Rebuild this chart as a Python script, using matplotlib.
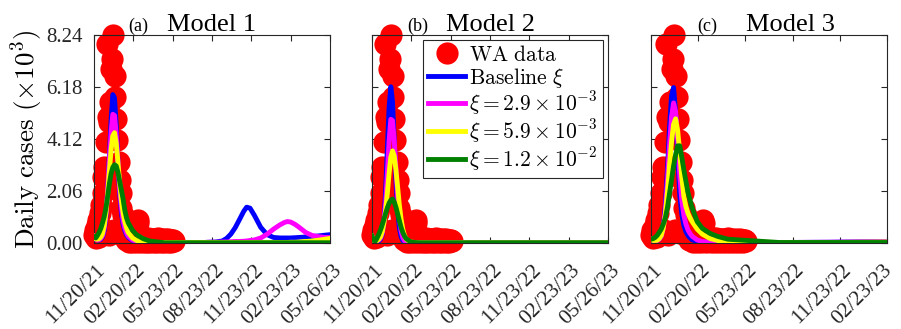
import numpy as np
import pandas as pd
import matplotlib
matplotlib.use('Agg')
import matplotlib.pyplot as plt
from matplotlib.transforms import ScaledTranslation

plt.rcParams['mathtext.fontset'] = 'cm'
plt.rcParams['font.family'] = ['Liberation Serif', 'DejaVu Serif']

# dates
start_date = '11/20/21'
ticks_ab = ['11/20/21', '02/20/22', '05/23/22', '08/23/22', '11/23/22', '02/23/23', '05/26/23']
ticks_c = ['11/20/21', '02/20/22', '05/23/22', '08/23/22', '11/23/22', '02/23/23']

# WA daily cases (x1000), every 2 days from 11/20/21
data_days = np.arange(0, 187, 2)
data_cases = [0.3, 0.5, 0.2, 0.45, 0.7, 0.9, 0.25, 1.2, 1.5, 0.4,
              2.0, 2.6, 3.0, 0.5, 4.0, 7.9, 5.0, 0.3, 4.8, 5.6,
              6.9, 7.3, 8.24, 0.5, 6.6, 5.8, 4.9, 4.1, 0.4, 3.2,
              2.5, 2.0, 1.4, 0.3, 1.1, 0.8, 0.7, 0.1, 0.5, 0.45,
              0.4, 0.05, 0.35, 0.3, 0.3, 0.05, 0.3, 0.25, 0.2, 0.05,
              0.6, 0.9, 0.8, 0.3, 0.05, 0.25, 0.2, 0.2, 0.02, 0.2,
              0.18, 0.15, 0.02, 0.2, 0.15, 0.15, 0.02, 0.17, 0.15, 0.13,
              0.02, 0.15, 0.14, 0.12, 0.02, 0.18, 0.14, 0.12, 0.02, 0.15,
              0.13, 0.1, 0.02, 0.14, 0.12, 0.1, 0.02, 0.14, 0.12, 0.1,
              0.02, 0.12, 0.1, 0.08]

# model curves (x1000)
days_early = [0, 4, 8, 12, 16, 20, 24, 28, 32, 36, 40, 44, 48, 52, 56, 60, 64, 68, 72, 76, 80,
              90, 100, 115, 130, 150]
late_a = [165, 180, 195, 210, 225, 240, 255, 270, 285, 300, 310, 320, 330, 340, 350, 357, 365,
          375, 390, 405, 420, 435, 445, 452, 460, 470, 480, 495, 510, 525, 540, 552]
late_b = [250, 400, 552]
late_c = [250, 350, 460]

# Model 1
blue_a = [0.25, 0.15, 0.12, 0.12, 0.15, 0.25, 0.5, 1.05, 2.1, 3.5, 4.9, 5.88, 5.75, 4.7, 3.2, 1.95,
          1.2, 0.75, 0.5, 0.33, 0.22, 0.1, 0.05, 0.03, 0.02, 0.02,
          0.02, 0.02, 0.02, 0.02, 0.02, 0.02, 0.02, 0.03, 0.04, 0.08, 0.18, 0.35, 0.6, 0.92, 1.25,
          1.42, 1.38, 1.1, 0.62, 0.33, 0.22, 0.2, 0.2, 0.2, 0.2, 0.21, 0.22, 0.24, 0.26, 0.28,
          0.31, 0.33]
magenta_a = [0.25, 0.15, 0.12, 0.13, 0.18, 0.3, 0.6, 1.15, 2.1, 3.3, 4.4, 5.1, 5.05, 4.3, 3.2, 2.15,
             1.4, 0.9, 0.6, 0.4, 0.27, 0.12, 0.06, 0.03, 0.02, 0.02,
             0.02, 0.02, 0.02, 0.02, 0.02, 0.02, 0.02, 0.03, 0.03, 0.04, 0.04, 0.05, 0.06, 0.06,
             0.07, 0.08, 0.1, 0.12, 0.2, 0.35, 0.55, 0.72, 0.81, 0.85, 0.83, 0.74, 0.62, 0.42,
             0.3, 0.25, 0.22, 0.22]
yellow_a = [0.25, 0.16, 0.15, 0.17, 0.24, 0.38, 0.7, 1.2, 1.95, 2.85, 3.7, 4.25, 4.37, 3.95, 3.2, 2.4,
            1.7, 1.2, 0.85, 0.6, 0.42, 0.2, 0.1, 0.05, 0.03, 0.02,
            0.02, 0.02, 0.02, 0.02, 0.02, 0.02, 0.02, 0.02, 0.02, 0.02, 0.02, 0.02, 0.02, 0.02,
            0.02, 0.02, 0.02, 0.02, 0.02, 0.02, 0.02, 0.02, 0.02, 0.02, 0.03, 0.03, 0.04, 0.06,
            0.08, 0.11, 0.15, 0.18]
green_a = [0.25, 0.2, 0.3, 0.42, 0.58, 0.8, 1.05, 1.4, 1.85, 2.35, 2.75, 3.0, 3.1, 3.05, 2.8, 2.45,
           2.1, 1.75, 1.3, 1.0, 0.8, 0.5, 0.32, 0.17, 0.08, 0.04,
           0.01, 0.01, 0.01, 0.01, 0.01, 0.01, 0.01, 0.01, 0.01, 0.01, 0.01, 0.01, 0.01, 0.01,
           0.01, 0.01, 0.01, 0.01, 0.01, 0.01, 0.01, 0.01, 0.01, 0.01, 0.01, 0.01, 0.01, 0.01,
           0.01, 0.01, 0.01, 0.01]

# Model 2
blue_b = [0.28, 0.08, 0.05, 0.05, 0.08, 0.15, 0.35, 0.9, 2.1, 3.8, 5.4, 6.19, 5.6, 4.1, 2.5, 1.3,
          0.6, 0.25, 0.1, 0.05, 0.03, 0.02, 0.01, 0.01, 0.01, 0.01, 0.01, 0.01, 0.01]
magenta_b = [0.28, 0.1, 0.07, 0.08, 0.12, 0.2, 0.4, 0.85, 1.6, 2.8, 4.05, 4.9, 4.85, 4.05, 2.95, 1.85,
             1.0, 0.48, 0.21, 0.09, 0.04, 0.02, 0.01, 0.01, 0.01, 0.01, 0.01, 0.01, 0.01]
yellow_b = [0.28, 0.1, 0.08, 0.1, 0.15, 0.25, 0.45, 0.8, 1.3, 2.0, 2.75, 3.4, 3.65, 3.45, 2.9, 2.2,
            1.5, 0.95, 0.55, 0.3, 0.15, 0.04, 0.02, 0.01, 0.01, 0.01, 0.01, 0.01, 0.01]
green_b = [0.28, 0.1, 0.08, 0.2, 0.35, 0.52, 0.72, 0.95, 1.18, 1.4, 1.58, 1.7, 1.74, 1.62, 1.42, 1.15,
           0.88, 0.62, 0.42, 0.27, 0.17, 0.05, 0.02, 0.01, 0.01, 0.01, 0.01, 0.01, 0.01]

# Model 3
blue_c = [0.15, 0.1, 0.1, 0.1, 0.15, 0.28, 0.66, 1.53, 2.9, 4.55, 5.83, 6.16, 5.18, 3.5, 1.91, 1.15,
          0.7, 0.45, 0.3, 0.2, 0.13, 0.06, 0.03, 0.02, 0.02, 0.02, 0.02, 0.03, 0.06]
magenta_c = [0.15, 0.1, 0.1, 0.1, 0.15, 0.27, 0.6, 1.3, 2.45, 3.85, 5.0, 5.55, 5.2, 4.1, 2.7, 1.7,
             1.1, 0.75, 0.52, 0.38, 0.27, 0.12, 0.06, 0.03, 0.02, 0.02, 0.02, 0.03, 0.05]
yellow_c = [0.15, 0.1, 0.1, 0.11, 0.17, 0.3, 0.6, 1.15, 2.0, 3.05, 4.0, 4.7, 4.92, 4.45, 3.6, 2.6,
            1.85, 1.45, 1.18, 1.0, 0.85, 0.55, 0.35, 0.18, 0.1, 0.05, 0.02, 0.02, 0.04]
green_c = [0.15, 0.17, 0.22, 0.3, 0.42, 0.55, 0.75, 1.0, 1.4, 1.95, 2.5, 3.05, 3.5, 3.85, 3.85, 3.4,
           2.9, 2.45, 2.0, 1.7, 1.4, 0.85, 0.58, 0.38, 0.26, 0.15, 0.02, 0.02, 0.02]

labels = [r'$\mathrm{WA\ data}$', r'$\mathrm{Baseline}\ \xi$', r'$\xi = 2.9 \times 10^{-3}$',
          r'$\xi = 5.9 \times 10^{-3}$', r'$\xi = 1.2 \times 10^{-2}$']
colors = ['blue', 'magenta', 'yellow', (0, 0.5, 0)]
yticks = [0, 2.06, 4.12, 6.18, 8.24]
gray = '#262626'

t0 = pd.to_datetime(start_date, format='%m/%d/%y')


def tick_days(lbls):
    return [(pd.to_datetime(s, format='%m/%d/%y') - t0).days for s in lbls]


panels = [
    ('(a)', 'Model 1', days_early + late_a, [blue_a, magenta_a, yellow_a, green_a], ticks_ab, 0.186, 0.496),
    ('(b)', 'Model 2', days_early + late_b, [blue_b, magenta_b, yellow_b, green_b], ticks_ab, 0.195, 0.50),
    ('(c)', 'Model 3', days_early + late_c, [blue_c, magenta_c, yellow_c, green_c], ticks_c, 0.237, 0.589),
]

fig = plt.figure(figsize=(9.01, 3.29), dpi=100)
lefts = [94, 372, 651]

for i, (tag, name, days, curves, tks, xtag, xname) in enumerate(panels):
    ax = fig.add_axes([lefts[i] / 901, 86 / 329, 236 / 901, 208 / 329])
    ax.plot(data_days, data_cases, 'o', color='red', markersize=16, markeredgewidth=0,
            clip_on=False, zorder=2, label=labels[0])
    for c, y, lb in zip(colors, curves, labels[1:]):
        ax.plot(days, y, color=c, lw=3.5, zorder=3, label=lb)

    td = tick_days(tks)
    ax.set_xlim(td[0], td[-1])
    ax.set_ylim(0, 8.24)
    ax.set_xticks(td)
    ax.set_xticklabels(tks, rotation=45, ha='right', va='top', rotation_mode='anchor')
    ax.set_yticks(yticks)
    if i == 0:
        ax.set_yticklabels(['%.2f' % v for v in yticks])
        ax.set_ylabel(r'$\mathrm{Daily\ cases}\ (\times 10^{3})$', fontsize=19.5, labelpad=1)
    else:
        ax.set_yticklabels([])
    ax.tick_params(direction='in', top=True, right=True, length=4, width=0.8, colors=gray,
                   labelsize=15, pad=8)
    ax.tick_params(axis='x', labelsize=15.5, pad=13)
    xlbls = ax.get_xticklabels()
    for k, lbl in enumerate(xlbls):
        dx = 2 if (i < 2 or k < len(xlbls) - 1) else -5
        lbl.set_transform(lbl.get_transform() + ScaledTranslation(dx / 100, 0, fig.dpi_scale_trans))
    for sp in ax.spines.values():
        sp.set_color(gray)
        sp.set_linewidth(0.8)

    ax.text(xtag, 1.02, tag, transform=ax.transAxes, ha='center', va='baseline', fontsize=13)
    ax.text(xname, 1.02, name, transform=ax.transAxes, ha='center', va='baseline', fontsize=19)

    if i == 1:
        leg = ax.legend(loc='upper right', bbox_to_anchor=(0.98, 0.975), borderaxespad=0,
                        fontsize=15.5, fancybox=False, framealpha=1, edgecolor=gray,
                        handlelength=1.7, handletextpad=0.2, labelspacing=0.0,
                        borderpad=0.25, numpoints=1)
        leg.get_frame().set_linewidth(0.8)

fig.savefig('out.png', dpi=100)
